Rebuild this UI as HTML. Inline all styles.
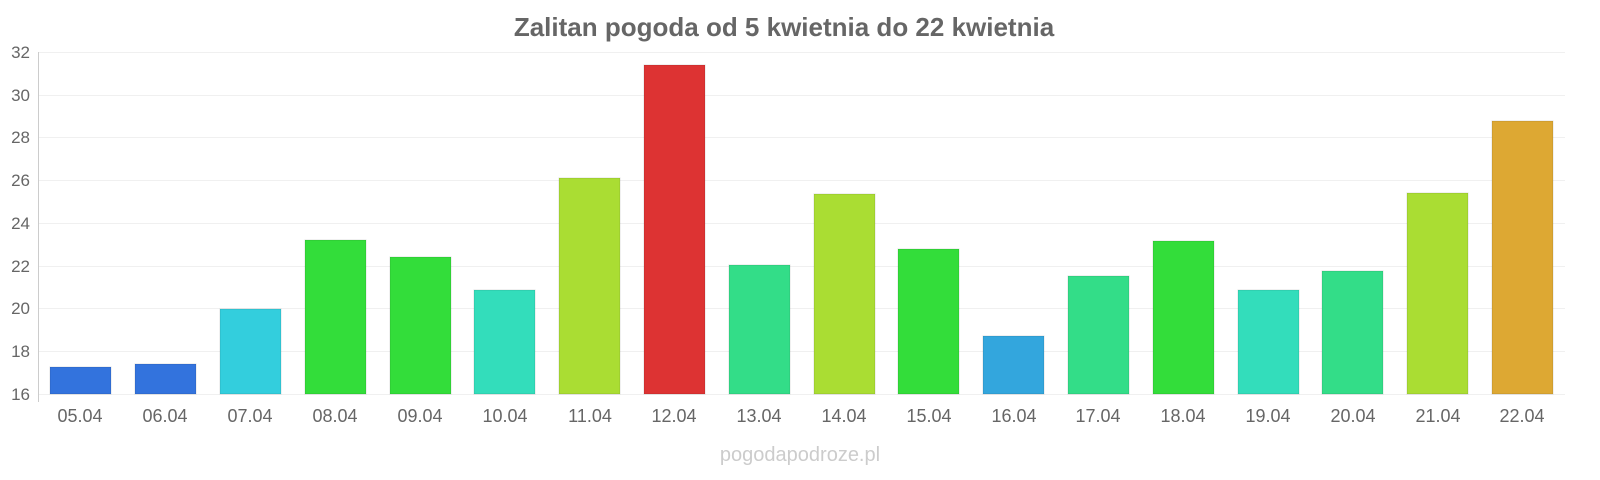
<!DOCTYPE html>
<html><head><meta charset="utf-8"><style>
body{margin:0;background:#fff;}
svg{display:block;font-family:"Liberation Sans",sans-serif;}
#bars rect{stroke:rgba(0,0,0,0.12);stroke-width:1;}
</style></head><body>
<svg width="1600" height="480" xmlns="http://www.w3.org/2000/svg">
<text x="784" y="36" text-anchor="middle" font-size="26" font-weight="bold" fill="#666">Zalitan pogoda od 5 kwietnia do 22 kwietnia</text>
<g stroke="#f0f0f0" stroke-width="1">
<line x1="38" x2="1565" y1="52.5" y2="52.5"/>
<line x1="38" x2="1565" y1="95.5" y2="95.5"/>
<line x1="38" x2="1565" y1="137.5" y2="137.5"/>
<line x1="38" x2="1565" y1="180.5" y2="180.5"/>
<line x1="38" x2="1565" y1="223.5" y2="223.5"/>
<line x1="38" x2="1565" y1="266.5" y2="266.5"/>
<line x1="38" x2="1565" y1="308.5" y2="308.5"/>
<line x1="38" x2="1565" y1="351.5" y2="351.5"/>
<line x1="38" x2="1565" y1="394.5" y2="394.5"/>
</g>
<line x1="38.5" x2="38.5" y1="52" y2="402" stroke="#ccc"/>
<g font-size="17" fill="#666" text-anchor="end">
<text x="30" y="58">32</text><text x="30" y="101">30</text><text x="30" y="143">28</text>
<text x="30" y="186">26</text><text x="30" y="229">24</text><text x="30" y="272">22</text>
<text x="30" y="314">20</text><text x="30" y="357">18</text><text x="30" y="400">16</text>
</g>
<g id="bars">
<rect x="50" y="367" width="61" height="27" fill="#3373dd"/>
<rect x="135" y="364" width="61" height="30" fill="#3373dd"/>
<rect x="220" y="309" width="61" height="85" fill="#33cedd"/>
<rect x="305" y="240" width="61" height="154" fill="#33dd3a"/>
<rect x="390" y="257" width="61" height="137" fill="#33dd3a"/>
<rect x="474" y="290" width="61" height="104" fill="#33ddbb"/>
<rect x="559" y="178" width="61" height="216" fill="#aadd33"/>
<rect x="644" y="65" width="61" height="329" fill="#dd3333"/>
<rect x="729" y="265" width="61" height="129" fill="#33dd88"/>
<rect x="814" y="194" width="61" height="200" fill="#aadd33"/>
<rect x="898" y="249" width="61" height="145" fill="#33dd3a"/>
<rect x="983" y="336" width="61" height="58" fill="#33a6dd"/>
<rect x="1068" y="276" width="61" height="118" fill="#33dd88"/>
<rect x="1153" y="241" width="61" height="153" fill="#33dd3a"/>
<rect x="1238" y="290" width="61" height="104" fill="#33ddbb"/>
<rect x="1322" y="271" width="61" height="123" fill="#33dd88"/>
<rect x="1407" y="193" width="61" height="201" fill="#aadd33"/>
<rect x="1492" y="121" width="61" height="273" fill="#dda833"/>
</g>
<g font-size="18" fill="#666" text-anchor="middle">
<text x="80" y="422">05.04</text><text x="165" y="422">06.04</text><text x="250" y="422">07.04</text>
<text x="335" y="422">08.04</text><text x="420" y="422">09.04</text><text x="505" y="422">10.04</text>
<text x="590" y="422">11.04</text><text x="674" y="422">12.04</text><text x="759" y="422">13.04</text>
<text x="844" y="422">14.04</text><text x="929" y="422">15.04</text><text x="1014" y="422">16.04</text>
<text x="1098" y="422">17.04</text><text x="1183" y="422">18.04</text><text x="1268" y="422">19.04</text>
<text x="1353" y="422">20.04</text><text x="1438" y="422">21.04</text><text x="1522" y="422">22.04</text>
</g>
<text x="800" y="461" text-anchor="middle" font-size="20" fill="#ccc">pogodapodroze.pl</text>
</svg>
</body></html>
